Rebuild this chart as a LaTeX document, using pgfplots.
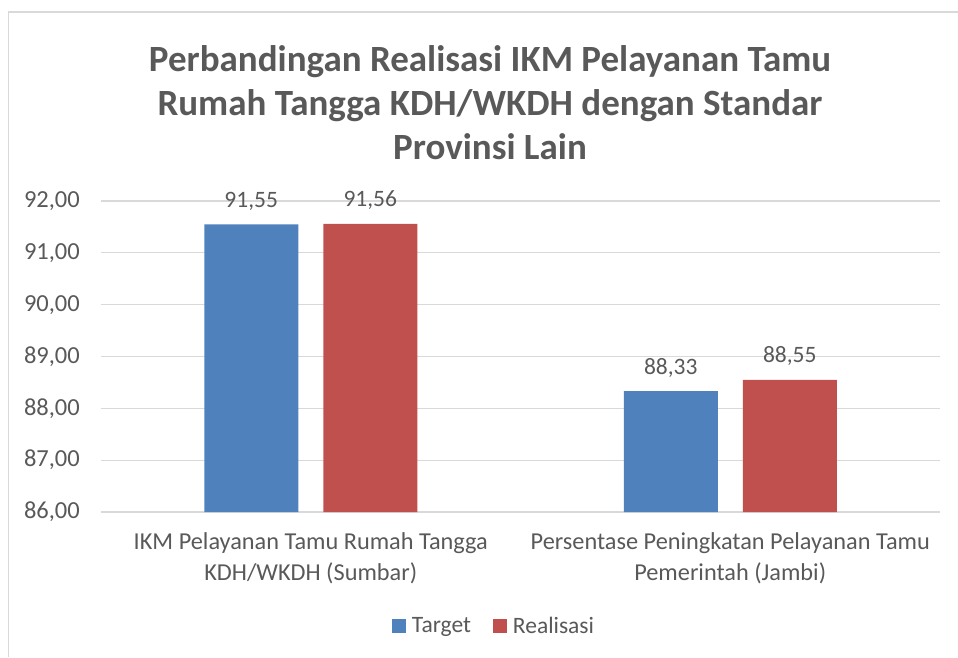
\documentclass[border=0pt]{standalone}
\usepackage{pgfplots}
\pgfplotsset{compat=1.18}
\usepackage{fontspec}
\setmainfont{Carlito}
\definecolor{tgt}{HTML}{4F81BD}
\definecolor{rea}{HTML}{C0504D}
\definecolor{txt}{HTML}{595959}
\definecolor{grd}{HTML}{D9D9D9}
\begin{document}
\begin{tikzpicture}[x=1pt,y=1pt]
\useasboundingbox (0,0) rectangle (958,657);
\draw[grd, line width=1.2pt] (8.5,0) -- (8.5,645) -- (958,645);
\node[text=txt, font=\fontsize{37}{44}\selectfont\bfseries, align=center] at (490,554) {Perbandingan Realisasi IKM Pelayanan Tamu\\Rumah Tangga KDH/WKDH dengan Standar\\Provinsi Lain};
\begin{axis}[
  at={(101pt,145pt)}, anchor=south west, scale only axis,
  width=839pt, height=311pt,
  ybar=25pt, bar width=94pt,
  xmin=-0.5, xmax=1.5, ymin=86, ymax=92,
  ytick={86,87,88,89,90,91,92},
  xtick={0,1},
  xticklabels={{IKM Pelayanan Tamu Rumah Tangga\\KDH/WKDH (Sumbar)},{Persentase Peningkatan Pelayanan Tamu\\Pemerintah (Jambi)}},
  major tick length=0pt,
  axis line style={draw=none},
  ymajorgrids, grid style={grd, line width=1.3pt},
  /pgf/number format/.cd, use comma, fixed, fixed zerofill, precision=2, 1000 sep={}, assume math mode=true,
  /pgfplots/.cd,
  yticklabel style={font=\fontsize{24.5}{28}\selectfont, text=txt, inner sep=0pt, anchor=east, xshift=-21pt},
  xticklabel style={font=\fontsize{24.3}{31}\selectfont, text=txt, inner sep=0pt, anchor=north, align=center, yshift=-20pt},
  nodes near coords,
  every node near coord/.append style={font=\fontsize{23.5}{28}\selectfont, text=txt, inner sep=0pt, anchor=base, yshift=17pt},
  legend columns=2,
  legend style={at={(0.4672,-0.3666)}, anchor=center, draw=none, font=\fontsize{23.5}{28}\selectfont, text=txt,
    nodes={inner sep=0pt, text=txt}, /tikz/every odd column/.append style={column sep=6pt}, /tikz/every even column/.append style={column sep=22pt}},
  legend image code/.code={\fill[#1] (0pt,-7pt) rectangle (14pt,7pt);},
]
\addplot[fill=tgt, draw=none] coordinates {(0,91.55) (1,88.33)};
\addplot[fill=rea, draw=none] coordinates {(0,91.56) (1,88.55)};
\legend{Target, Realisasi}
\end{axis}
\end{tikzpicture}
\end{document}
